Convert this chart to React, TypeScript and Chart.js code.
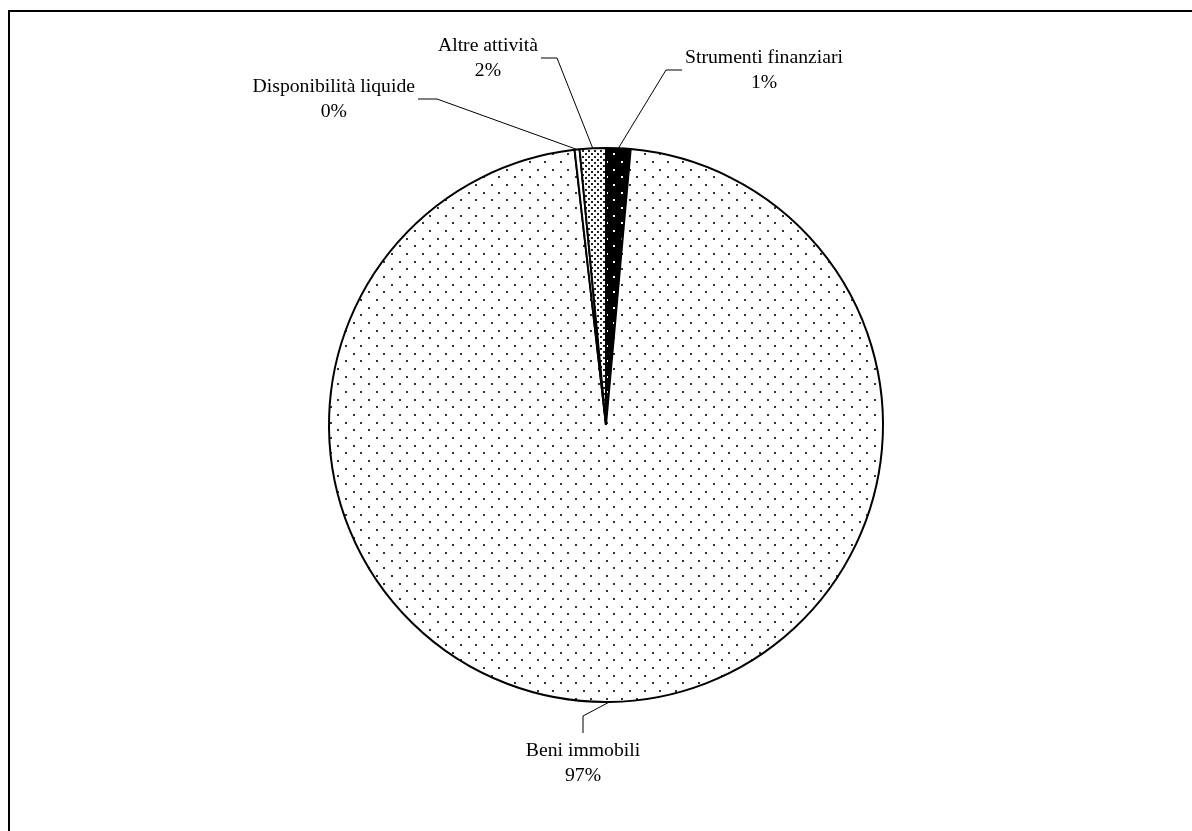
import React, { useEffect, useRef } from "react";
import { Chart, registerables } from "chart.js";

Chart.register(...registerables);

// ---- data ----
const categories = ["Strumenti finanziari", "Beni immobili", "Disponibilità liquide", "Altre attività"];
const shares = [1.42, 96.77, 0.29, 1.52];

// ---- label layout (annotation geometry, not data) ----
const leaderElbows: [number, number][] = [[666, 70], [583, 716], [437, 99], [557, 58]];
const leaderEnds: [number, number][] = [[682, 70], [583, 733], [418, 99], [541, 58]];
const labelSides = ["right", "below", "left", "left"];

const FONT = "19.7px 'Liberation Serif', 'Times New Roman', serif";
const LINE_H = 25;

function dotTile(bg: string, dot: string, size: number, n: number, d: number) {
  const c = document.createElement("canvas");
  c.width = size;
  c.height = size;
  const g = c.getContext("2d")!;
  g.fillStyle = bg;
  g.fillRect(0, 0, size, size);
  g.fillStyle = dot;
  const step = size / n;
  for (let i = 0; i < n; i++) {
    for (let j = 0; j < n; j++) {
      g.fillRect(Math.round(i * step), Math.round(j * step), d, d);
      g.fillRect(Math.round(i * step + step / 2), Math.round(j * step + step / 2), d, d);
    }
  }
  return g.createPattern(c, "repeat")!;
}

const framePlugin = {
  id: "frame",
  beforeDraw(chart: any) {
    const ctx = chart.ctx;
    ctx.save();
    ctx.fillStyle = "#ffffff";
    ctx.fillRect(0, 0, chart.width, chart.height);
    ctx.fillStyle = "#000000";
    ctx.fillRect(8, 10, 2, chart.height - 10);
    ctx.fillRect(8, 10, chart.width - 8, 2);
    ctx.restore();
  },
};

const labelPlugin = {
  id: "leaderLabels",
  afterDraw(chart: any) {
    const ctx = chart.ctx;
    const meta = chart.getDatasetMeta(0);
    const total = shares.reduce((a, b) => a + b, 0);
    ctx.save();
    ctx.font = FONT;
    ctx.fillStyle = "#000";
    ctx.strokeStyle = "#000";
    ctx.lineWidth = 1;
    ctx.textAlign = "center";
    ctx.textBaseline = "middle";
    meta.data.forEach((arc: any, i: number) => {
      const p = arc.getProps(["x", "y", "startAngle", "endAngle", "outerRadius"], true);
      const mid = (p.startAngle + p.endAngle) / 2;
      const sx = p.x + Math.cos(mid) * p.outerRadius;
      const sy = p.y + Math.sin(mid) * p.outerRadius;
      const [ex, ey] = leaderElbows[i];
      const [tx, ty] = leaderEnds[i];
      ctx.beginPath();
      ctx.moveTo(sx, sy);
      ctx.lineTo(ex, ey);
      ctx.lineTo(tx, ty);
      ctx.stroke();
      const lines = [categories[i], Math.round((shares[i] / total) * 100) + "%"];
      const w = Math.max(...lines.map((l) => ctx.measureText(l).width));
      let cx = tx;
      let cy = ty;
      const side = labelSides[i];
      if (side === "right") {
        cx = tx + 3 + w / 2;
        cy = ty - LINE_H / 2;
      } else if (side === "left") {
        cx = tx - 3 - w / 2;
        cy = ty - LINE_H / 2;
      } else {
        cx = tx;
        cy = ty + 18;
      }
      lines.forEach((l, k) => ctx.fillText(l, cx, cy + k * LINE_H));
    });
    ctx.restore();
  },
};

export default function App() {
  const ref = useRef<HTMLCanvasElement>(null);
  useEffect(() => {
    const canvas = ref.current!;
    const beni = dotTile("#ffffff", "#333333", 46, 3, 2);
    const strumenti = dotTile("#000000", "#ffffff", 46, 3, 2);
    const altre = dotTile("#ffffff", "#222222", 6, 1, 2);
    const chart = new Chart(canvas, {
      type: "pie",
      data: {
        labels: categories,
        datasets: [
          {
            data: shares,
            backgroundColor: [strumenti, beni, "#ffffff", altre],
            borderColor: "#000000",
            borderWidth: 2,
          },
        ],
      },
      options: {
        responsive: false,
        animation: false,
        layout: { padding: { left: 20, right: 0, top: 147, bottom: 128 } },
        plugins: {
          legend: { display: false },
          tooltip: { enabled: false },
        },
      },
      plugins: [framePlugin, labelPlugin],
    });
    return () => chart.destroy();
  }, []);
  return (
    <div style={{ position: "absolute", left: 0, top: 0, width: 1192, height: 831, overflow: "hidden" }}>
      <canvas ref={ref} width={1192} height={831} style={{ display: "block" }} />
    </div>
  );
}
